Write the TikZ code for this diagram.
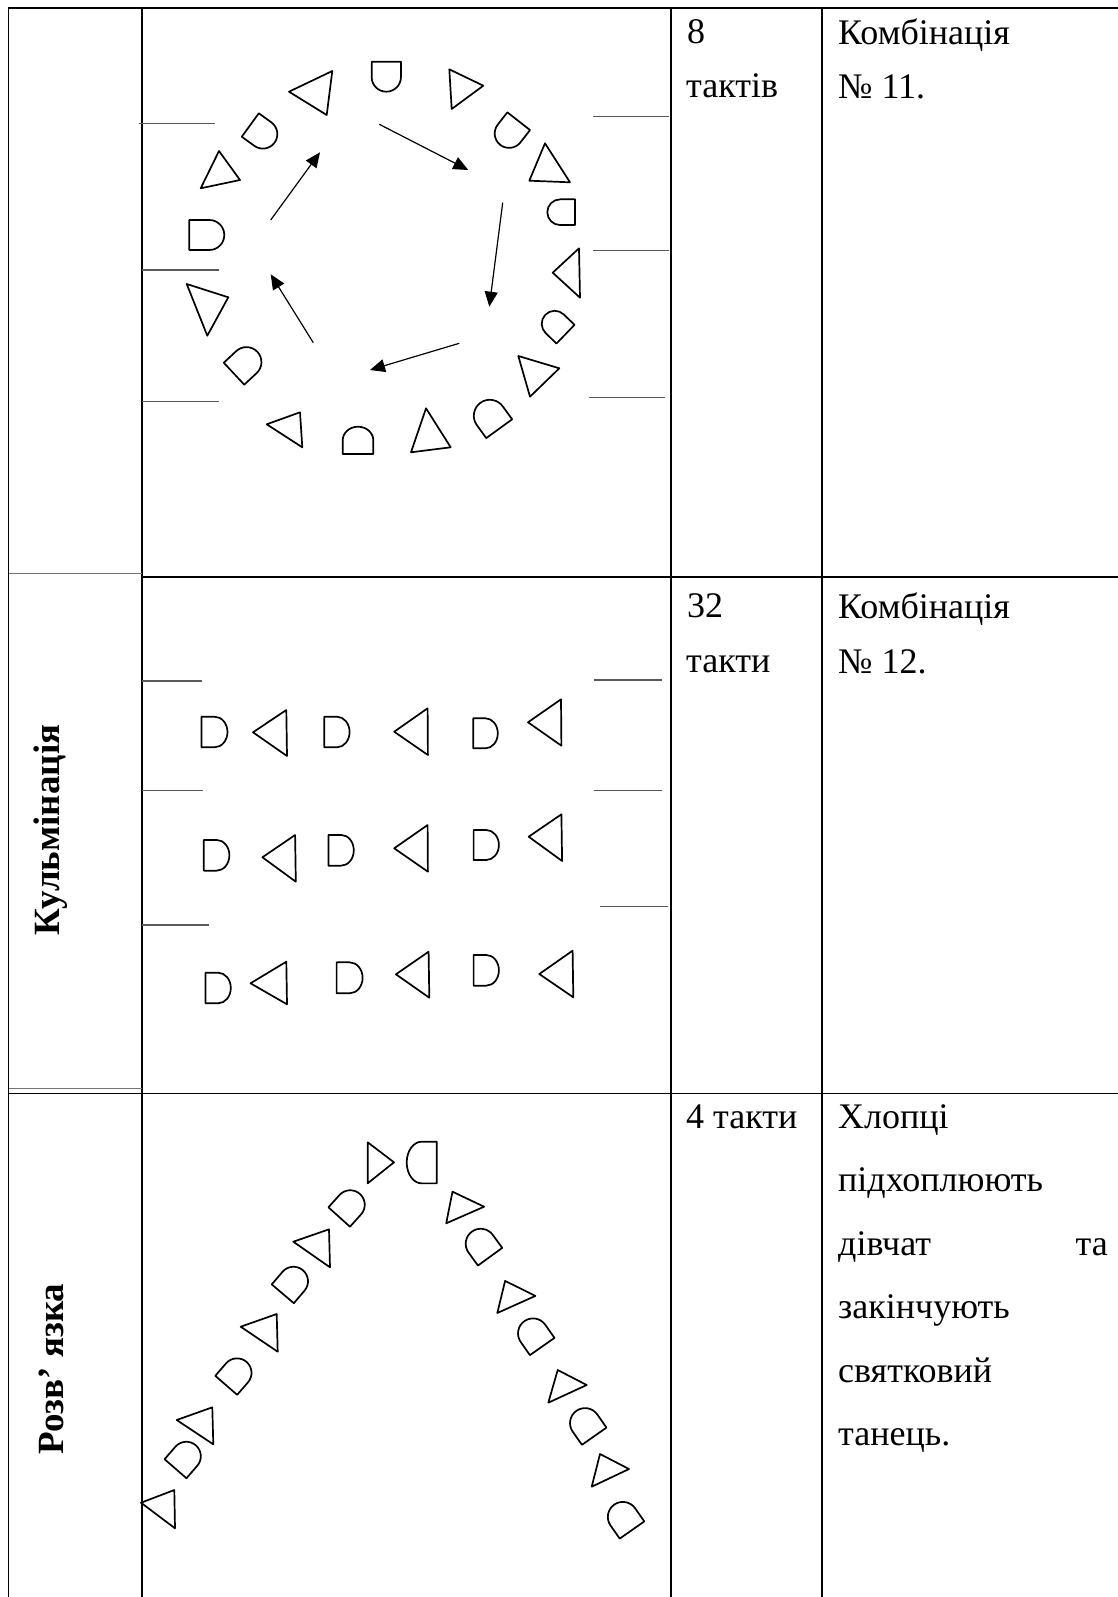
\documentclass[tikz,border=0pt]{standalone}
\usepackage{fontspec}
\setmainfont{Liberation Serif}
\usetikzlibrary{arrows.meta}

% boy: flat side centre, direction, width, length
\newcommand{\boy}[4]{%
  \draw[figure,shift={(#1)},rotate=#2]
    (0,{-#3/2}) -- ({#4-min(#3,#4)/2},{-#3/2})
    arc[start angle=-90,end angle=90,x radius={min(#3,#4)/2},y radius={#3/2}]
    -- (0,{#3/2}) -- cycle;}
% girl: three corners
\newcommand{\girl}[3]{\draw[figure] (#1) -- (#2) -- (#3) -- cycle;}

\begin{document}
\begin{tikzpicture}[x=1pt,y=1pt,
    figure/.style={line width=1.7pt,line join=round},
    tabline/.style={line width=1.6pt},
    thinline/.style={line width=1pt,black!55},
    rim/.style={line width=1.4pt,black!65},
    lead/.style={line width=1.2pt,-{Triangle[length=15pt,width=13pt]}},
    txt/.style={font=\fontsize{36}{43}\selectfont,inner sep=0pt},
    stage/.style={font=\bfseries\fontsize{37}{44}\selectfont,rotate=90,inner sep=0pt}]
\useasboundingbox (0,0) rectangle (1118,-1597);

% table
\draw[tabline] (8.5,-1597) -- (8.5,-8) -- (1118,-8);
\draw[tabline] (142,-8) -- (142,-1597);
\draw[tabline] (671,-8) -- (671,-1597);
\draw[tabline] (822,-8) -- (822,-1597);
\draw[tabline] (142,-577) -- (1118,-577);
\draw[tabline] (8.5,-1093.5) -- (1118,-1093.5);
\draw[thinline] (8.5,-573) -- (142,-573);
\draw[thinline] (8.5,-1088) -- (142,-1088);

\node[stage] (climax) at (51,-830) {Кульмінація};
\node[stage] (ending) at (51,-1369) {Розв’ язка};

\node[txt,anchor=base west] (bars1) at (687,-43.3) {8};
\node[txt,anchor=base west] (unit1) at (686,-98) {тактів};
\node[txt,anchor=base west] (comb1) at (838,-44.5) {Комбінація};
\node[txt,anchor=base west] (num1) at (838,-99) {№ 11.};
\node[txt,anchor=base west] (bars2) at (687,-617) {32};
\node[txt,anchor=base west] (unit2) at (686,-672) {такти};
\node[txt,anchor=base west] (comb2) at (838,-618.5) {Комбінація};
\node[txt,anchor=base west] (num2) at (838,-673) {№ 12.};
\node[txt,anchor=base west] (bars3) at (686,-1128) {4 такти};
\node[txt,anchor=base west] (fin1) at (838,-1128) {Хлопці};
\node[txt,anchor=base west] (fin2) at (838,-1191.5) {підхоплюють};
\node[txt,anchor=base west] (fin3) at (838,-1255) {дівчат};
\node[txt,anchor=base east] (fin3b) at (1108,-1255) {та};
\node[txt,anchor=base west] (fin4) at (838,-1318.5) {закінчують};
\node[txt,anchor=base west] (fin5) at (838,-1382) {святковий};
\node[txt,anchor=base west] (fin6) at (838,-1445.5) {танець.};

% combination 11: circle
\draw[rim] (138.5,-123.3) -- (215,-123.3);
\draw[rim] (142,-270) -- (219,-270);
\draw[rim] (142,-401.7) -- (219,-401.7);
\draw[rim] (593.3,-116.3) -- (669.3,-116.3);
\draw[rim] (593.3,-250.3) -- (669.3,-250.3);
\draw[rim] (589,-397.7) -- (665,-397.7);

\boy{386.3,-61.7}{-90}{29.3}{30}
\boy{250.3,-125}{-36}{29}{30}
\boy{189.3,-235}{0}{30}{35}
\boy{234,-373.7}{43}{30}{32}
\boy{358,-454}{90}{30.6}{27.3}
\boy{499.2,-428.7}{126}{32}{32}
\boy{565.5,-334.2}{136}{26}{28}
\boy{575,-212.2}{180}{25.7}{27.7}
\boy{518.7,-121.2}{-128}{28.8}{30}

\girl{289,-91.7}{332.3,-71}{326.7,-115}
\girl{219,-151}{240,-180}{200.7,-188.3}
\girl{186.7,-284}{228.3,-297.3}{207.3,-335.7}
\girl{266.7,-424.3}{300,-412.3}{302.3,-447.3}
\girl{426,-408.3}{411,-452.3}{450.7,-447.3}
\girl{518.3,-356}{559.3,-368.3}{530,-396.7}
\girl{579,-248.3}{552.7,-272.7}{580,-297.7}
\girl{545,-143.3}{529.3,-180.7}{570,-182.3}
\girl{449.3,-69.3}{483.3,-85.7}{451.7,-109}

\coordinate (a1) at (379.3,-124.3);
\coordinate (b1) at (468.3,-170);
\coordinate (a2) at (502.7,-202.7);
\coordinate (b2) at (489.3,-306.7);
\coordinate (a3) at (459.3,-343.3);
\coordinate (b3) at (370,-370);
\coordinate (a4) at (313.3,-342.7);
\coordinate (b4) at (270.7,-274.3);
\coordinate (a5) at (270.7,-220);
\coordinate (b5) at (320,-152.3);
\foreach \i in {1,...,5} \draw[lead] (a\i) -- (b\i);

% combination 12: three lines
\draw[rim] (142,-681) -- (202,-681);
\draw[rim] (142,-790.7) -- (202.7,-790.7);
\draw[rim] (142,-925) -- (209,-925);
\draw[rim] (593.7,-680) -- (662,-680);
\draw[rim] (593.7,-790.7) -- (662,-790.7);
\draw[rim] (600,-906.7) -- (667.5,-906.7);

\boy{201.5,-732}{0}{30.6}{26}
\boy{324.3,-732}{0}{30.6}{25.3}
\boy{473.2,-733.3}{0}{30}{24.6}
\boy{203.8,-855.3}{0}{30.7}{25.6}
\boy{328.5,-850.3}{0}{30.7}{25.3}
\boy{473.6,-845}{0}{30}{25.3}
\boy{205.5,-988}{0}{30.6}{25.3}
\boy{336.6,-977.8}{0}{31}{26}
\boy{473.6,-970.3}{0}{30.7}{25.3}

\girl{253,-732.3}{286.3,-710}{287,-756}
\girl{394.2,-731.7}{427.6,-708.3}{427.9,-755}
\girl{528,-722.3}{561,-699.3}{561.4,-745.7}
\girl{262.4,-857.3}{295.1,-835}{295.8,-881.7}
\girl{394.2,-848.3}{427.6,-825}{427.9,-871.7}
\girl{528.7,-836.7}{561.4,-814.3}{562.1,-861}
\girl{250.5,-983.3}{286.3,-961.7}{287,-1004.3}
\girl{395.9,-974.3}{428.6,-951.7}{429.3,-997.7}
\girl{539.3,-974}{572.6,-950.7}{573.3,-997.3}

% ending: wedge
\boy{436.7,-1162.5}{180}{41.7}{30}
\boy{339.2,-1217}{48}{29}{31}
\boy{282.8,-1293.8}{49.6}{29}{31}
\boy{226.2,-1385.3}{49}{29}{31}
\boy{175.5,-1468.7}{49}{29}{31}
\boy{490.1,-1256.7}{126}{30}{31}
\boy{542.2,-1346.5}{125}{30}{31}
\boy{594.2,-1436.2}{125}{30}{31}
\boy{632,-1530}{125}{30}{31}

\girl{367.7,-1142.3}{394,-1162.3}{367.7,-1183.3}
\girl{293.3,-1241.7}{329,-1229.3}{330,-1267.3}
\girl{240.7,-1326.7}{276.7,-1314}{277.7,-1351.7}
\girl{176.7,-1420}{212.3,-1407.3}{213.3,-1444.3}
\girl{141,-1502.7}{174.3,-1490}{175,-1528.3}
\girl{452.5,-1191.7}{484.1,-1206.7}{446.2,-1223.3}
\girl{505.1,-1280.9}{535.4,-1295.9}{497.3,-1313}
\girl{557.7,-1370}{586.7,-1385}{548.3,-1402.7}
\girl{600,-1454}{629,-1469}{591.7,-1486.7}
\end{tikzpicture}
\end{document}
